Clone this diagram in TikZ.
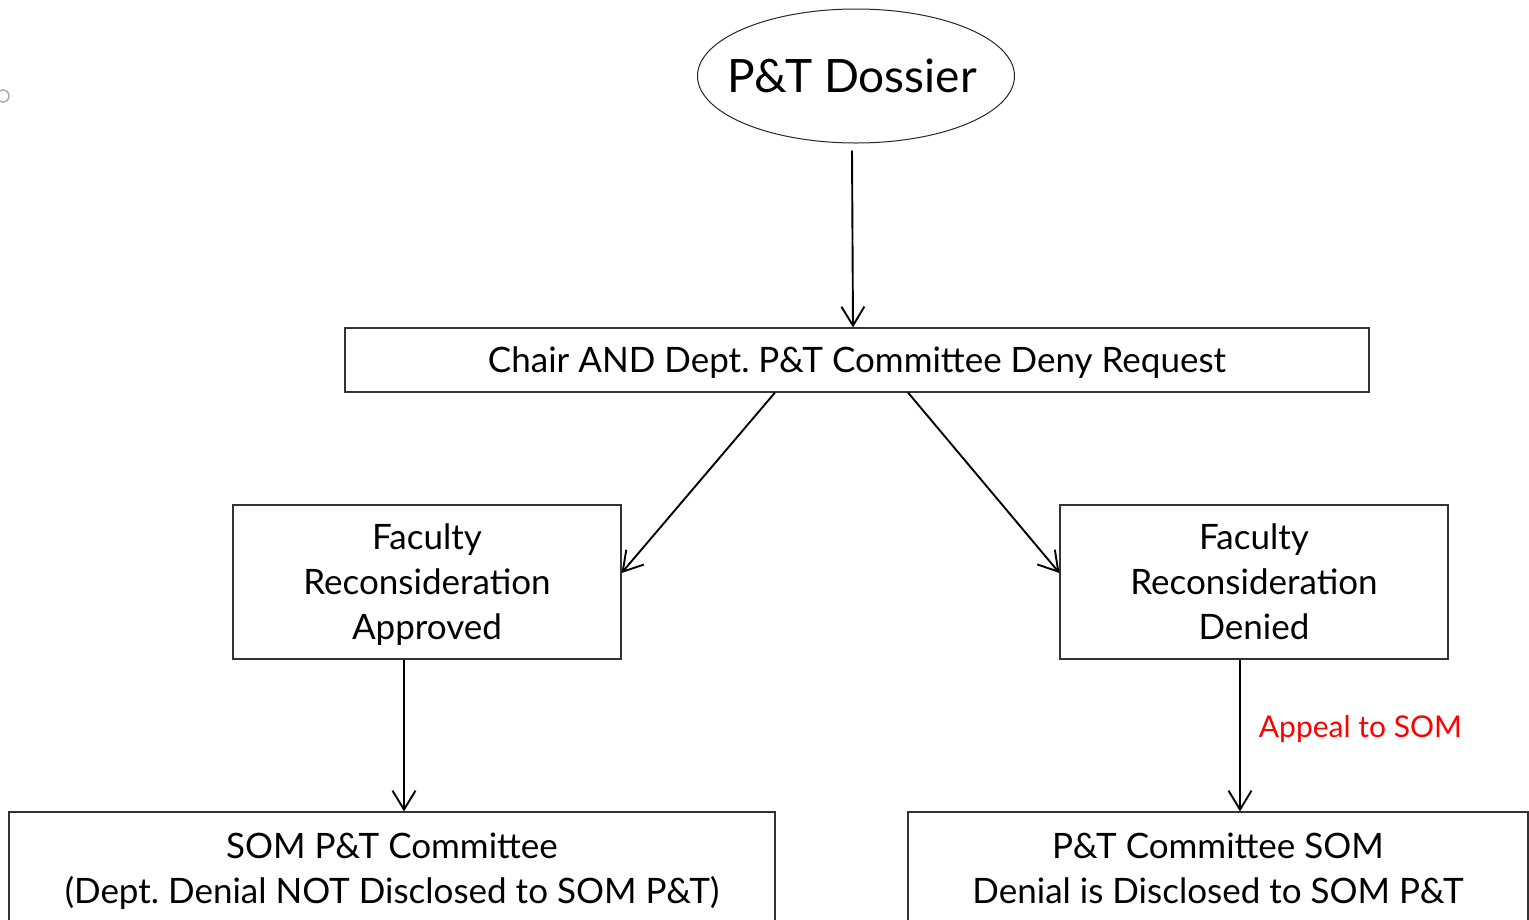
\documentclass[tikz,border=0pt]{standalone}
\usepackage{fontspec}
\setmainfont{Lato}
\usetikzlibrary{arrows.meta,shapes.geometric}
\definecolor{appealred}{RGB}{255,0,0}
\begin{document}
\begin{tikzpicture}[x=1pt,y=-1pt,
  box/.style={draw=black!80, line width=1.1pt, align=center, inner sep=0pt,
    text depth=0pt, font=\fontsize{35}{45}\selectfont},
  arr/.style={-{Straight Barb[length=19pt,width=23pt]}, line width=1.9pt},
]
\clip (0,0) rectangle (1529,919);
\fill[white] (0,0) rectangle (1529,919);

% stray marker at the left edge
\draw[black!30, line width=1.6pt] (3,96) circle [radius=6pt];

% nodes
\node[ellipse, draw=black!85, line width=1pt, minimum width=317pt, minimum height=134pt,
  inner xsep=-40pt, inner ysep=0pt, font=\fontsize{46}{55}\selectfont] (dossier) at (856,76)
  {\hspace*{-8pt}P\&T Dossier};
\node[box, minimum width=1024pt, minimum height=64pt] (deny) at (857,360)
  {Chair AND Dept.\ P\&T Committee Deny Request};
\node[box, minimum width=388pt, minimum height=154pt] (appr) at (427,582)
  {Faculty\\Reconsideration\\Approved};
\node[box, minimum width=388pt, minimum height=154pt] (dend) at (1254,582)
  {Faculty\\Reconsideration\\Denied};
\node[box, minimum width=766pt, minimum height=112pt] (somL) at (392,868)
  {SOM P\&T Committee\\(Dept.\ Denial NOT Disclosed to SOM P\&T)};
\node[box, minimum width=620pt, minimum height=112pt] (somR) at (1218,868)
  {P\&T Committee SOM\\Denial is Disclosed to SOM P\&T};

% connectors
\draw[arr] ([xshift=-4pt,yshift=-7pt]dossier.south) -- ([xshift=-4pt]deny.north);
\draw[arr] ([xshift=-82pt]deny.south) -- ([yshift=9pt]appr.east);
\draw[arr] ([xshift=51pt]deny.south) -- ([yshift=9pt]dend.west);
\draw[arr] ([xshift=-23pt]appr.south) -- ([xshift=-23pt]appr.south |- somL.north);
\draw[arr] ([xshift=-14pt]dend.south) -- ([xshift=-14pt]dend.south |- somR.north)
  node[pos=0.44, anchor=west, xshift=18pt, text=appealred, text depth=0pt,
    font=\fontsize{30}{36}\selectfont, inner sep=0pt] (appeal) {Appeal to SOM};
\end{tikzpicture}
\end{document}
